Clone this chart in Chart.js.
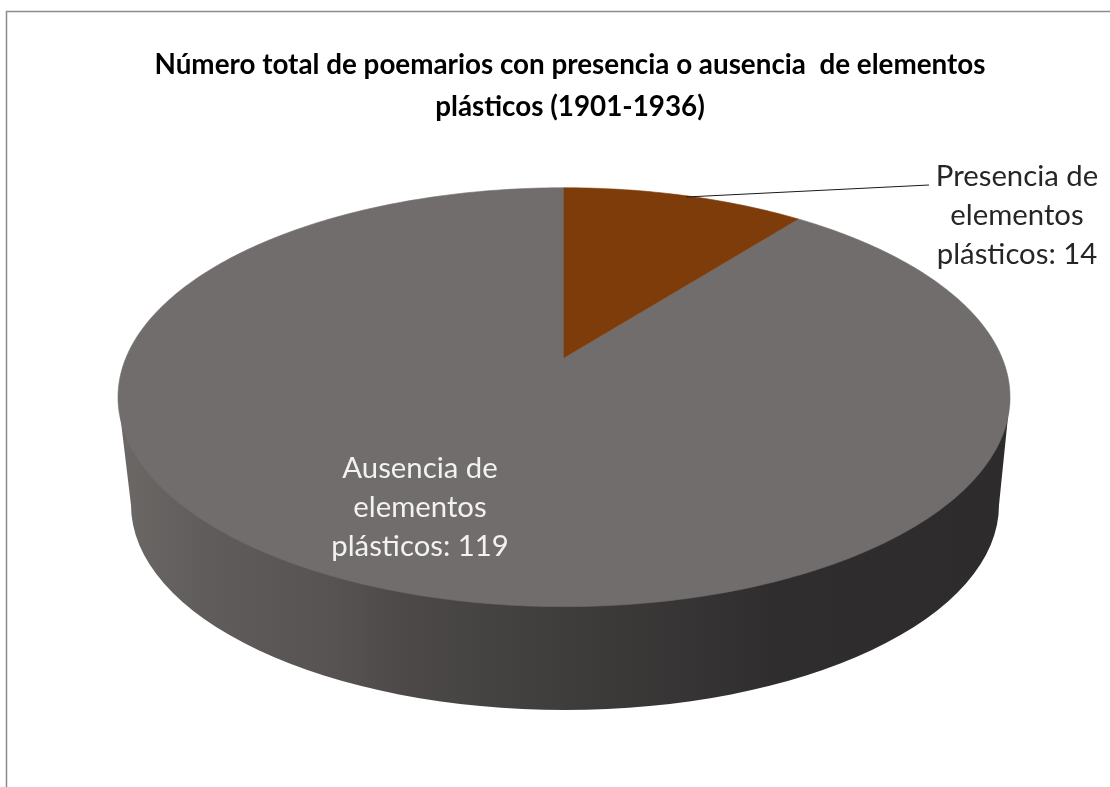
<!DOCTYPE html>
<html>
<head>
<meta charset="utf-8">
<title>Poemarios</title>
<script src="https://cdn.jsdelivr.net/npm/chart.js@4"></script>
<style>
    html, body { margin: 0; background: #fff; overflow: hidden; }
    canvas { display: block; }
</style>
</head>
<body>
<canvas id="pieChart" width="1110" height="787"></canvas>
<script>
const categories = ['Presencia de elementos plásticos', 'Ausencia de elementos plásticos'];
const values = [14, 119];
const sliceColors = ['#7f3c0b', '#716d6c'];
const titleLines = ['Número total de poemarios con presencia o ausencia  de elementos', 'plásticos (1901-1936)'];

const FONT = 'Lato, "Open Sans", sans-serif';

// Disc seen in perspective: the far side shrinks, so the centre sits above the ellipse middle
const view = { shiftX: -6, width: 438, lift: 134.55, far: 0.1885 };
const base = { centerY: 505, rx: 434, ry: 205 };
const labelStyles = [
    { x: 1017, y: 177, color: '#262626' },
    { x: 420, y: 469, color: '#f2f2f2' }
];

const project = (arc, u, v) => {
    const w = 1 + view.far * v;
    return [arc.x + view.shiftX + view.width * u / w, (arc.y - view.lift * v) / w];
};

// Side wall of the disc: a chord hidden under the top face, then round the front of the base
const drawWall = (ctx, arc) => {
    const grad = ctx.createLinearGradient(118, 0, 1010, 0);
    grad.addColorStop(0, '#6b6866');
    grad.addColorStop(0.1, '#605c5b');
    grad.addColorStop(0.24, '#565352');
    grad.addColorStop(0.32, '#4c4948');
    grad.addColorStop(0.43, '#444241');
    grad.addColorStop(0.55, '#3c3a39');
    grad.addColorStop(0.74, '#2f2d2e');
    grad.addColorStop(1, '#2d2b2c');

    const side = Math.sqrt(1 - view.far * view.far);
    const cx = arc.x + view.shiftX;
    ctx.beginPath();
    ctx.moveTo(...project(arc, side, -view.far));
    ctx.lineTo(...project(arc, -side, -view.far));
    ctx.ellipse(cx + 1, base.centerY, base.rx, base.ry, 0, Math.PI, 0, true);
    ctx.closePath();
    ctx.fillStyle = grad;
    ctx.fill();
};

const drawSlice = (ctx, arc) => {
    const { startAngle, endAngle } = arc.getProps(['startAngle', 'endAngle']);
    const steps = Math.ceil((endAngle - startAngle) * 60);
    ctx.beginPath();
    ctx.moveTo(...project(arc, 0, 0));
    for (let i = 0; i <= steps; i++) {
        const a = startAngle + (endAngle - startAngle) * i / steps;
        ctx.lineTo(...project(arc, Math.cos(a), -Math.sin(a)));
    }
    ctx.closePath();
    ctx.fillStyle = arc.options.backgroundColor;
    ctx.fill();
    // closes the hairline between neighbouring slices
    ctx.strokeStyle = arc.options.backgroundColor;
    ctx.lineWidth = 0.6;
    ctx.stroke();
};

const perspectivePie = {
    id: 'perspectivePie',
    beforeDatasetsDraw(chart) {
        const ctx = chart.ctx;
        const arcs = chart.getDatasetMeta(0).data;
        ctx.save();
        drawWall(ctx, arcs[0]);
        // big slice first so the small one stays crisp on top of it
        [...arcs].reverse().forEach(arc => drawSlice(ctx, arc));
        ctx.restore();
        return false;
    },
    afterDraw(chart) {
        const ctx = chart.ctx;
        ctx.save();

        // Frame of the chart box
        ctx.strokeStyle = '#8c8c8c';
        ctx.lineWidth = 1.5;
        ctx.beginPath();
        ctx.moveTo(6.5, 787);
        ctx.lineTo(6.5, 11.5);
        ctx.lineTo(1110, 11.5);
        ctx.stroke();

        // Leader line of the small slice
        ctx.strokeStyle = '#1a1a1a';
        ctx.lineWidth = 1;
        ctx.beginPath();
        ctx.moveTo(686, 197);
        ctx.lineTo(929, 185);
        ctx.stroke();

        // Data labels
        ctx.font = `29.3px ${FONT}`;
        ctx.textAlign = 'center';
        ctx.textBaseline = 'middle';
        categories.forEach((name, i) => {
            const w = name.split(' ');
            const lines = [`${w[0]} ${w[1]}`, w[2], `${w[3]}: ${values[i]}`];
            ctx.fillStyle = labelStyles[i].color;
            lines.forEach((line, n) => ctx.fillText(line, labelStyles[i].x, labelStyles[i].y + n * 39));
        });
        ctx.restore();
    }
};

new Chart(document.getElementById('pieChart'), {
    type: 'pie',
    data: {
        labels: categories,
        datasets: [{ data: values, backgroundColor: sliceColors, borderWidth: 0 }]
    },
    options: {
        responsive: false,
        animation: false,
        layout: { padding: { left: 130, right: 100, top: 0, bottom: 259 } },
        plugins: {
            legend: { display: false },
            tooltip: { enabled: false },
            title: {
                display: true,
                text: titleLines,
                color: '#000',
                font: { family: FONT, size: 27.8, weight: 'bold', lineHeight: 1.5 },
                padding: { top: 44, bottom: 60 }
            }
        }
    },
    plugins: [perspectivePie]
});
</script>
</body>
</html>
